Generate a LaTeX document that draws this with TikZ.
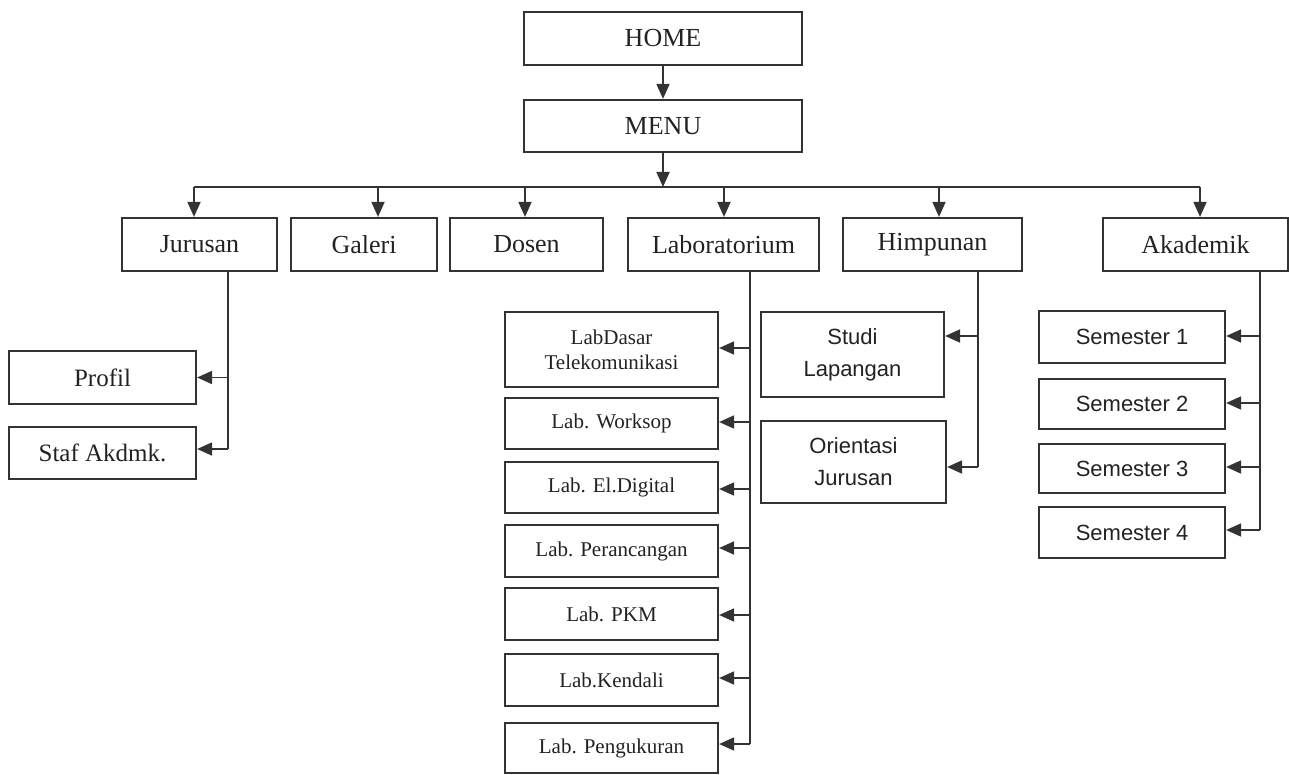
\documentclass[tikz,border=0pt]{standalone}
\usepackage{fontspec}
\setmainfont{Liberation Serif}
\newfontfamily\sansf{Liberation Sans}
\usetikzlibrary{arrows.meta}
\definecolor{ink}{HTML}{333333}
\definecolor{txt}{HTML}{222222}
\tikzset{
  box/.style={draw=ink, line width=2.2pt, rectangle, inner sep=0pt, text=txt, align=center},
  big/.style={font=\fontsize{26}{30}\selectfont},
  mid/.style={font=\fontsize{25}{30}\selectfont},
  lab/.style={font=\fontsize{21}{25}\selectfont},
  sem/.style={font=\sansf\fontsize{22}{32}\selectfont},
  conn/.style={draw=ink, line width=1.8pt},
  arr/.style={conn, -{Triangle[length=15pt,width=13pt]}}
}
\begin{document}
\begin{tikzpicture}[x=1pt,y=-1pt]
\useasboundingbox (0,0) rectangle (1289,775);
% top
\node[box,big,minimum width=278,minimum height=53] (home) at (663,38.5) {HOME};
\node[box,big,minimum width=278,minimum height=52] (menu) at (663,126) {MENU};
% level 2
\node[box,big,minimum width=155,minimum height=53] (jur) at (199.5,244.5) {Jurusan};
\node[box,big,minimum width=146,minimum height=53] (gal) at (364,244.5) {Galeri};
\node[box,big,minimum width=153,minimum height=53] (dos) at (526.5,244.5) {Dosen};
\node[box,big,minimum width=191,minimum height=53] (lab) at (723.5,244.5) {Laboratorium};
\node[box,big,minimum width=179,minimum height=53] (him) at (932.5,244.5) {Himpunan};
\node[box,big,minimum width=185,minimum height=53] (aka) at (1195.5,244.5) {Akademik};
% Jurusan children
\node[box,mid,minimum width=187,minimum height=53] (pro) at (102.5,377.5) {Profil};
\node[box,mid,minimum width=187,minimum height=52] (staf) at (102.5,453) {Staf Akdmk.};
% Lab children
\node[box,lab,minimum width=213,minimum height=75] (l1) at (611.5,349.5) {LabDasar\\Telekomunikasi};
\node[box,lab,minimum width=213,minimum height=51] (l2) at (611.5,423.5) {Lab. Worksop};
\node[box,lab,minimum width=213,minimum height=51] (l3) at (611.5,487.5) {Lab. El.Digital};
\node[box,lab,minimum width=213,minimum height=52] (l4) at (611.5,551) {Lab. Perancangan};
\node[box,lab,minimum width=213,minimum height=52] (l5) at (611.5,614) {Lab. PKM};
\node[box,lab,minimum width=213,minimum height=52] (l6) at (611.5,680) {Lab.Kendali};
\node[box,lab,minimum width=213,minimum height=50] (l7) at (611.5,748) {Lab. Pengukuran};
% Himpunan children
\node[box,sem,minimum width=183,minimum height=85] (stu) at (852.5,354.5) {Studi\\Lapangan};
\node[box,sem,minimum width=185,minimum height=82] (ori) at (853.5,462) {Orientasi\\Jurusan};
% Akademik children
\node[box,sem,minimum width=186,minimum height=52] (s1) at (1132,337) {Semester 1};
\node[box,sem,minimum width=186,minimum height=50] (s2) at (1132,404) {Semester 2};
\node[box,sem,minimum width=186,minimum height=49] (s3) at (1132,468.5) {Semester 3};
\node[box,sem,minimum width=186,minimum height=51] (s4) at (1132,532.5) {Semester 4};
% connectors top
\draw[arr] (home.south) -- (menu.north);
\coordinate (bus) at (663,187);
\coordinate (bj) at (194,187);
\coordinate (bg) at (378,187);
\coordinate (bd) at (525,187);
\coordinate (bl) at (724,187);
\coordinate (bh) at (939,187);
\coordinate (ba) at (1200,187);
\draw[arr] (menu.south) -- (bus);
\draw[conn] (bj) -- (ba);
\draw[arr] (bj) -- (bj |- jur.north);
\draw[arr] (bg) -- (bg |- gal.north);
\draw[arr] (bd) -- (bd |- dos.north);
\draw[arr] (bl) -- (bl |- lab.north);
\draw[arr] (bh) -- (bh |- him.north);
\draw[arr] (ba) -- (ba |- aka.north);
% Jurusan branch
\coordinate (jv) at (228,271);
\coordinate (jv2) at (228,449);
\draw[conn] (jv |- jur.south) -- (jv2);
\draw[arr] (jv |- pro.east) -- (pro.east);
\draw[arr] (jv2) -- (jv2 -| staf.east);
% Lab branch
\coordinate (lv) at (750,271);
\coordinate (lv1) at (750,348);
\coordinate (lv2) at (750,422);
\coordinate (lv3) at (750,489);
\coordinate (lv4) at (750,548);
\coordinate (lv5) at (750,615);
\coordinate (lv6) at (750,678);
\coordinate (lv7) at (750,744);
\draw[conn] (lv |- lab.south) -- (lv7);
\draw[arr] (lv1) -- (lv1 -| l1.east);
\draw[arr] (lv2) -- (lv2 -| l2.east);
\draw[arr] (lv3) -- (lv3 -| l3.east);
\draw[arr] (lv4) -- (lv4 -| l4.east);
\draw[arr] (lv5) -- (lv5 -| l5.east);
\draw[arr] (lv6) -- (lv6 -| l6.east);
\draw[arr] (lv7) -- (lv7 -| l7.east);
% Himpunan branch
\coordinate (hv) at (978,270);
\coordinate (hv1) at (978,336);
\coordinate (hv2) at (978,467);
\draw[conn] (hv |- him.south) -- (hv2);
\draw[arr] (hv1) -- (hv1 -| stu.east);
\draw[arr] (hv2) -- (hv2 -| ori.east);
% Akademik branch
\coordinate (av) at (1260,272);
\coordinate (av1) at (1260,336);
\coordinate (av2) at (1260,403);
\coordinate (av3) at (1260,467);
\coordinate (av4) at (1260,530);
\draw[conn] (av |- aka.south) -- (av4);
\draw[arr] (av1) -- (av1 -| s1.east);
\draw[arr] (av2) -- (av2 -| s2.east);
\draw[arr] (av3) -- (av3 -| s3.east);
\draw[arr] (av4) -- (av4 -| s4.east);
\end{tikzpicture}
\end{document}
